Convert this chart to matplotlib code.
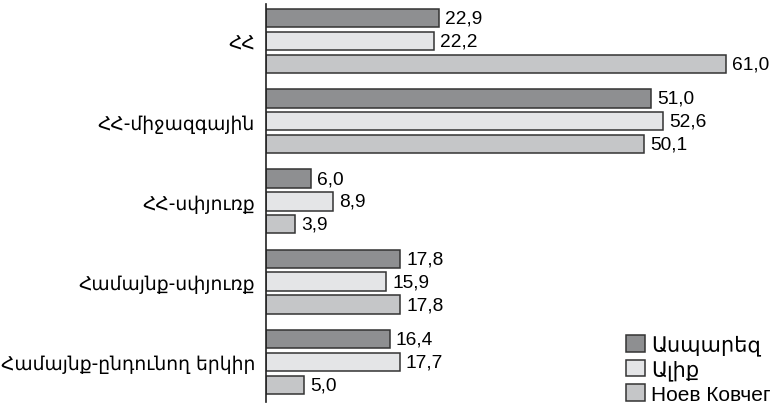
import numpy as np
import matplotlib
matplotlib.use('Agg')
from matplotlib import pyplot as plt

plt.rcParams['font.family'] = ['Liberation Sans', 'DejaVu Sans']

categories = ['ՀՀ', 'ՀՀ-միջազգային', 'ՀՀ-սփյուռք', 'Համայնք-սփյուռք', 'Համայնք-ընդունող երկիր']
series = ['Ասպարեզ', 'Ալիք', 'Ноев Ковчег']
aspareq = [22.9, 51.0, 6.0, 17.8, 16.4]
aliq = [22.2, 52.6, 8.9, 15.9, 17.7]
noev = [61.0, 50.1, 3.9, 17.8, 5.0]
colors = ['#8e8f91', '#e4e5e7', '#c5c6c8']

fig = plt.figure(figsize=(7.74, 4.06), dpi=100)
ax = fig.add_axes([266/774, 3/406, 508/774, 398/406])

y = np.arange(len(categories))
pitch = 0.285
h = 0.23
for k, (vals, lab) in enumerate(zip([aspareq, aliq, noev], series)):
    yy = y + (k-1)*pitch
    ax.barh(yy, vals, height=h, color=colors[k], edgecolor='#333333', lw=1.1, label=lab)
    for yi, v in zip(yy, vals):
        ax.text(v + 0.8, yi, f'{v:.1f}'.replace('.', ','), va='center', ha='left', fontsize=13.8)

ax.set_xlim(0, 67.3)
ax.set_ylim(4.5, -0.46)
ax.set_yticks(y)
ax.set_yticklabels(categories, fontsize=13.5, family=['DejaVu Sans'])
ax.tick_params(axis='y', length=0, pad=8)
ax.set_xticks([])
for s in ['top', 'right', 'bottom']:
    ax.spines[s].set_visible(False)
ax.spines['left'].set_linewidth(1.2)
ax.spines['left'].set_color('#222222')

leg = ax.legend(loc='lower right', bbox_to_anchor=(1.0, -0.012), frameon=False,
                prop={'family': ['Liberation Sans', 'DejaVu Sans'], 'size': 15},
                handlelength=0.9, handleheight=0.85, handletextpad=0.3, labelspacing=0.2,
                borderaxespad=0.05, borderpad=0.1)

fig.savefig('out.png', dpi=100)
